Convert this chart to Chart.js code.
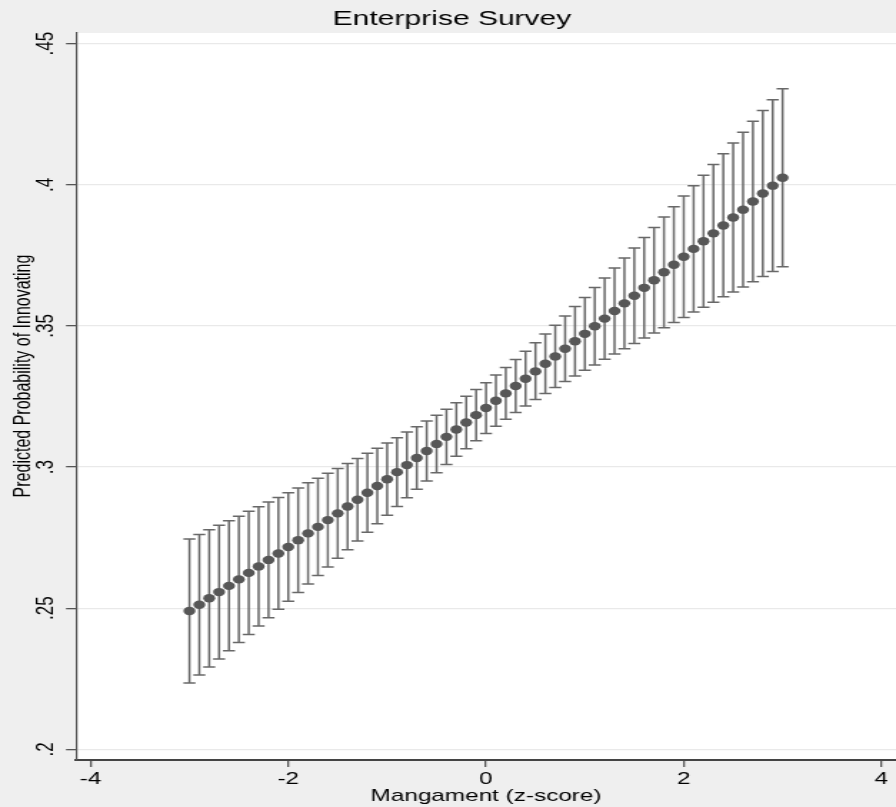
<!DOCTYPE html>
<html>
<head>
<meta charset="utf-8">
<script src="https://cdn.jsdelivr.net/npm/chart.js@4.4.1/dist/chart.umd.min.js"></script>
<style>
  html, body { margin: 0; padding: 0; background: #efefef; overflow: hidden; }
  /* o gráfico original está esticado na horizontal */
  #wrap { width: 627px; height: 807px; transform-origin: 0 0; transform: scaleX(1.429); }
</style>
</head>
<body>
<div id="wrap"><canvas id="grafico" width="627" height="807"></canvas></div>
<script>
// Dados
const xValores = [-3.0, -2.9, -2.8, -2.7, -2.6, -2.5, -2.4, -2.3, -2.2, -2.1,
  -2.0, -1.9, -1.8, -1.7, -1.6, -1.5, -1.4, -1.3, -1.2, -1.1,
  -1.0, -0.9, -0.8, -0.7, -0.6, -0.5, -0.4, -0.3, -0.2, -0.1,
  0.0, 0.1, 0.2, 0.3, 0.4, 0.5, 0.6, 0.7, 0.8, 0.9,
  1.0, 1.1, 1.2, 1.3, 1.4, 1.5, 1.6, 1.7, 1.8, 1.9,
  2.0, 2.1, 2.2, 2.3, 2.4, 2.5, 2.6, 2.7, 2.8, 2.9, 3.0];

const previsto = [0.2490, 0.2512, 0.2535, 0.2557, 0.2579, 0.2602, 0.2625, 0.2648, 0.2671, 0.2694,
  0.2717, 0.2741, 0.2765, 0.2788, 0.2812, 0.2836, 0.2860, 0.2884, 0.2909, 0.2933,
  0.2957, 0.2982, 0.3007, 0.3032, 0.3057, 0.3082, 0.3107, 0.3133, 0.3158, 0.3184,
  0.3209, 0.3235, 0.3261, 0.3287, 0.3313, 0.3339, 0.3366, 0.3392, 0.3419, 0.3446,
  0.3472, 0.3499, 0.3526, 0.3553, 0.3580, 0.3607, 0.3635, 0.3662, 0.3690, 0.3717,
  0.3745, 0.3773, 0.3800, 0.3828, 0.3856, 0.3884, 0.3912, 0.3941, 0.3969, 0.3997, 0.4025];

const inferior = [0.2235, 0.2263, 0.2292, 0.2320, 0.2349, 0.2378, 0.2407, 0.2437, 0.2466, 0.2496,
  0.2525, 0.2556, 0.2586, 0.2616, 0.2646, 0.2677, 0.2707, 0.2738, 0.2769, 0.2799,
  0.2829, 0.2860, 0.2891, 0.2921, 0.2951, 0.2980, 0.3009, 0.3038, 0.3065, 0.3093,
  0.3119, 0.3145, 0.3169, 0.3193, 0.3216, 0.3239, 0.3261, 0.3282, 0.3303, 0.3323,
  0.3343, 0.3362, 0.3382, 0.3401, 0.3419, 0.3438, 0.3457, 0.3475, 0.3494, 0.3512,
  0.3530, 0.3549, 0.3566, 0.3584, 0.3603, 0.3620, 0.3638, 0.3657, 0.3675, 0.3693, 0.3710];

const superior = [0.2745, 0.2761, 0.2778, 0.2794, 0.2810, 0.2826, 0.2843, 0.2859, 0.2876, 0.2892,
  0.2909, 0.2926, 0.2944, 0.2960, 0.2978, 0.2995, 0.3013, 0.3030, 0.3049, 0.3067,
  0.3085, 0.3104, 0.3124, 0.3143, 0.3163, 0.3184, 0.3205, 0.3228, 0.3251, 0.3275,
  0.3299, 0.3326, 0.3353, 0.3381, 0.3410, 0.3440, 0.3471, 0.3502, 0.3535, 0.3569,
  0.3601, 0.3636, 0.3670, 0.3705, 0.3741, 0.3776, 0.3813, 0.3849, 0.3886, 0.3922,
  0.3960, 0.3997, 0.4034, 0.4072, 0.4110, 0.4148, 0.4186, 0.4225, 0.4263, 0.4301, 0.4340];

const xTicks = [-4, -2, 0, 2, 4];
const yTicks = [0.2, 0.25, 0.3, 0.35, 0.4, 0.45];
const yTickLabels = ['.2', '.25', '.3', '.35', '.4', '.45'];

const fonte = '"Liberation Sans", Arial, Helvetica, sans-serif';

// Fundo branco da área do gráfico
const fundoArea = {
    id: 'fundoArea',
    beforeDraw(chart) {
        const { ctx, chartArea: a } = chart;
        ctx.save();
        ctx.fillStyle = '#ffffff';
        ctx.fillRect(a.left, a.top, a.right - a.left, a.bottom - a.top);
        ctx.restore();
    }
};

// Barras de erro (intervalo de confiança)
const barrasErro = {
    id: 'barrasErro',
    beforeDatasetsDraw(chart) {
        const { ctx, scales: { x, y } } = chart;
        ctx.save();
        ctx.strokeStyle = '#686868';
        ctx.lineWidth = 1.5;
        xValores.forEach((v, i) => {
            const px = x.getPixelForValue(v);
            const topo = y.getPixelForValue(superior[i]);
            const base = y.getPixelForValue(inferior[i]);
            ctx.beginPath();
            ctx.moveTo(px, topo);
            ctx.lineTo(px, base);
            ctx.moveTo(px - 4.2, topo);
            ctx.lineTo(px + 4.2, topo);
            ctx.moveTo(px - 4.2, base);
            ctx.lineTo(px + 4.2, base);
            ctx.stroke();
        });
        ctx.restore();
    }
};

// Título e rótulo do eixo Y
const textos = {
    id: 'textos',
    afterDraw(chart) {
        const ctx = chart.ctx;
        ctx.save();
        ctx.fillStyle = '#000';
        ctx.textAlign = 'center';
        ctx.textBaseline = 'alphabetic';
        ctx.font = '21px ' + fonte;
        ctx.fillText('Enterprise Survey', 316.3, 24.5);
        ctx.translate(16.5, 376);
        ctx.rotate(-Math.PI / 2);
        ctx.textBaseline = 'middle';
        ctx.font = '16px ' + fonte;
        ctx.fillText('Predicted Probability of Innovating', 0, 0);
        ctx.restore();
    }
};

const pontos = xValores.map((v, i) => ({ x: v, y: previsto[i] }));

new Chart(document.getElementById('grafico'), {
    type: 'scatter',
    data: {
        datasets: [{
            label: 'Previsto',
            data: pontos,
            backgroundColor: '#575757',
            borderWidth: 0,
            pointRadius: 4.2,
            pointHoverRadius: 4.2
        }]
    },
    options: {
        responsive: false,
        animation: false,
        events: [],
        layout: { autoPadding: false, padding: { top: 33, right: 0, bottom: 0, left: 0 } },
        plugins: {
            legend: { display: false },
            title: { display: false },
            tooltip: { enabled: false }
        },
        scales: {
            x: {
                type: 'linear',
                min: -4.147,
                max: 4.147,
                afterBuildTicks: s => { s.ticks = xTicks.map(v => ({ value: v })); },
                afterFit: s => { s.height = 47; s.paddingLeft = 0; s.paddingRight = 0; },
                grid: { drawOnChartArea: false, tickColor: '#555', tickLength: 7, lineWidth: 1.3 },
                border: { color: '#444', width: 2 },
                ticks: {
                    color: '#000',
                    font: { family: fonte, size: 17 },
                    padding: 2,
                    maxRotation: 0,
                    callback: v => String(v)
                },
                title: {
                    display: true,
                    text: 'Mangament (z-score)',
                    color: '#000',
                    font: { family: fonte, size: 17 },
                    padding: { top: 0, bottom: 0 }
                }
            },
            y: {
                type: 'linear',
                min: 0.19621,
                max: 0.45379,
                afterBuildTicks: s => { s.ticks = yTicks.map(v => ({ value: v })); },
                afterFit: s => { s.width = 53.2; s.paddingTop = 0; s.paddingBottom = 0; },
                grid: { color: '#e9e9e9', lineWidth: 1.3, tickColor: '#555', tickLength: 7 },
                border: { color: '#555', width: 1.2 },
                ticks: {
                    color: '#000',
                    font: { family: fonte, size: 17 },
                    minRotation: 90,
                    maxRotation: 90,
                    crossAlign: 'center',
                    padding: 2,
                    callback: v => yTickLabels[yTicks.findIndex(t => Math.abs(t - v) < 1e-9)]
                }
            }
        }
    },
    plugins: [fundoArea, barrasErro, textos]
});
</script>
</body>
</html>
